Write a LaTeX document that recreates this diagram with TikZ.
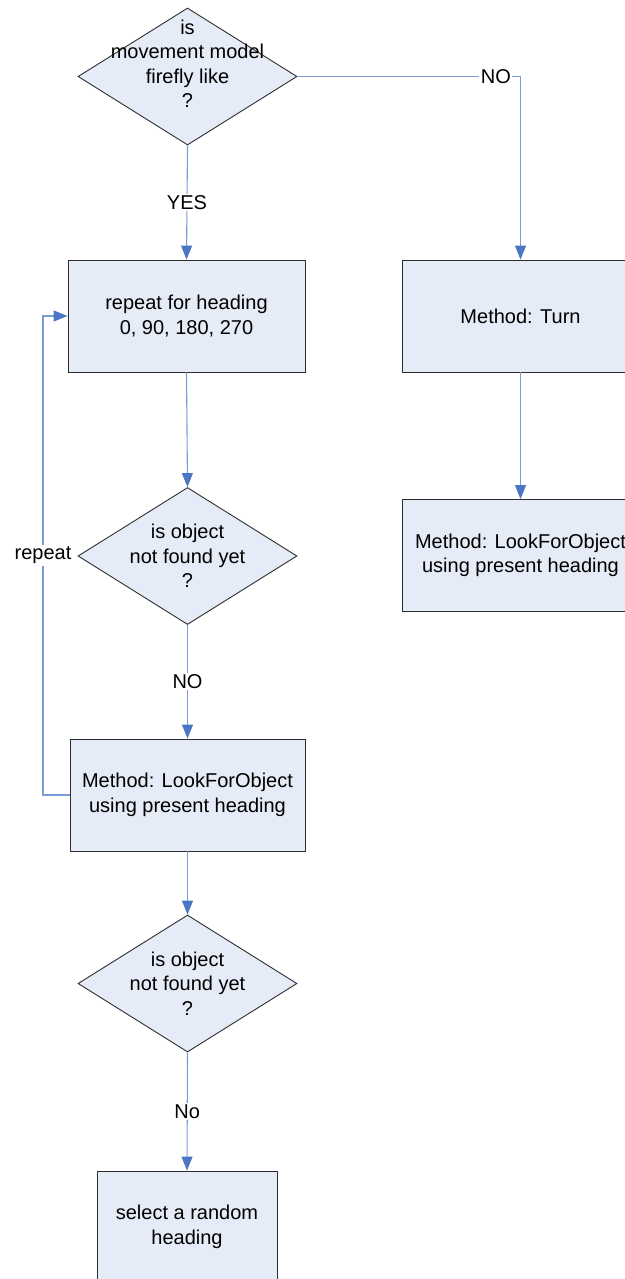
\documentclass[tikz,border=0pt]{standalone}
\usepackage{fontspec}
\setmainfont{Liberation Sans}
\usetikzlibrary{shapes.geometric,arrows.meta}
\definecolor{boxfill}{HTML}{E6ECF7}
\definecolor{boxline}{HTML}{2E2E2E}
\definecolor{connline}{HTML}{7A9CD6}
\definecolor{tipblue}{HTML}{4A76C2}
\tikzset{
  txt/.style={font=\fontsize{20}{24.5}\selectfont, align=center, text=black},
  stepbox/.style={draw=boxline, fill=boxfill, line width=0.9pt, rectangle,
    minimum width=237, minimum height=112, inner sep=0pt, txt},
  decision/.style={draw=boxline, fill=boxfill, line width=0.9pt, diamond,
    minimum width=219, minimum height=137, inner sep=0pt},
  conn/.style={draw=connline, line width=1.1pt,
    -{Triangle[width=11pt,length=14pt,fill=tipblue,color=tipblue]}},
  plainconn/.style={draw=connline, line width=1.1pt},
  lab/.style={txt, fill=white, inner sep=1.5pt}
}
\begin{document}
\begin{tikzpicture}[x=1pt,y=-1pt]
\useasboundingbox (0,0) rectangle (624,1279);

% shapes
\node[decision] (d1) at (187.5,76.5) {};
\node[txt] (d1t) at (187.5,64) {is\\movement model\\firefly like\\?};
\node[stepbox] (b1) at (186.5,316) {repeat for heading\\0, 90, 180, 270};
\node[stepbox] (b2) at (520.5,316) {Method: Turn};
\node[stepbox] (b3) at (520.5,555.5) {Method: LookForObject\\using present heading};
\node[decision] (d2) at (187.5,556) {};
\node[txt] (d2t) at (187.5,556) {is object\\not found yet\\?};
\node[stepbox, minimum width=235] (b4) at (187.5,795) {Method: LookForObject\\using present heading};
\node[decision] (d3) at (187.5,983.5) {};
\node[txt] (d3t) at (187.5,983.5) {is object\\not found yet\\?};
\node[stepbox, minimum width=180] (b5) at (187,1227) {select a random\\heading};

% helper points
\coordinate (c1) at (b2.north |- d1.east);
\coordinate (l1) at (43,795);
\coordinate (l2) at (43,316);

% connectors
\draw[plainconn] (d1.east) -- node[lab, pos=0.89] {NO} (c1);
\draw[conn] (c1) -- (b2.north);
\draw[conn] (d1.south) -- node[lab] {YES} (b1.north);
\draw[conn] (b2.south) -- (b3.north);
\draw[conn] (b1.south) -- (d2.north);
\draw[conn] (d2.south) -- node[lab] {NO} (b4.north);
\draw[conn] (b4.west) -- (l1) -- node[lab, pos=0.5] {repeat} (l2) -- (b1.west);
\draw[conn] (b4.south) -- (d3.north);
\draw[conn] (d3.south) -- node[lab] {No} (b5.north);
\end{tikzpicture}
\end{document}
